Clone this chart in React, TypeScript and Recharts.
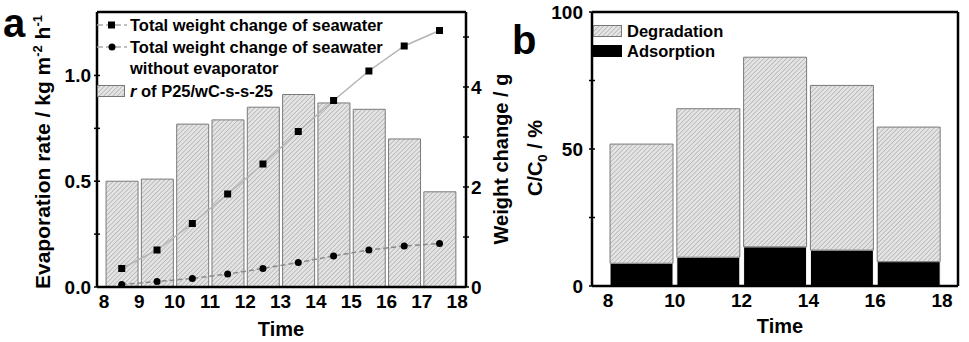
import React from "react";
import { ComposedChart, Bar, Line, XAxis, YAxis, Legend, Label, ReferenceLine } from "recharts";

const FONT = '"Liberation Sans", Arial, Helvetica, sans-serif';

// ---- panel a ----
const hours = [8.5, 9.5, 10.5, 11.5, 12.5, 13.5, 14.5, 15.5, 16.5, 17.5];
const evapRate = [0.5, 0.51, 0.77, 0.79, 0.85, 0.91, 0.87, 0.84, 0.7, 0.45];
const weightWith = [0.37, 0.74, 1.27, 1.86, 2.46, 3.11, 3.73, 4.32, 4.82, 5.13];
const weightWithout = [0.05, 0.11, 0.17, 0.26, 0.37, 0.49, 0.62, 0.74, 0.82, 0.87];
const hourTicks = [8, 9, 10, 11, 12, 13, 14, 15, 16, 17, 18];
const rateTicks = [0, 0.25, 0.5, 0.75, 1.0];
const rateLabels = [0, 0.5, 1.0];
const weightTicks = [0, 1, 2, 3, 4, 5];
const weightLabels = [0, 2, 4];

// ---- panel b ----
const periods = [9, 11, 13, 15, 17];
const adsorption = [8.3, 10.5, 14.3, 13.1, 8.9];
const degradation = [43.5, 54.2, 69.2, 60.1, 49.1];
const periodTicks = [8, 10, 12, 14, 16, 18];
const ratioTicks = [0, 25, 50, 75, 100];
const ratioLabels = [0, 50, 100];

const dataA = hours.map((t, i) => ({ t, rate: evapRate[i], w1: weightWith[i], w2: weightWithout[i] }));
const dataB = periods.map((t, i) => ({ t, ads: adsorption[i], deg: degradation[i] }));

const tickFont = { fontSize: 19, fontWeight: 700, fill: "#000", fontFamily: FONT };
const titleFont = { fontSize: 20, fontWeight: 700, fill: "#000", fontFamily: FONT };

// y tick: short line crossing the axis, label only on major values
const yTick = (side: "left" | "right", labeled: number[], fmt: (v: number) => string, gap: number) => (props: any) => {
    const { x, y, payload } = props;
    const v = payload.value;
    const dir = side === "left" ? 1 : -1;
    const ax = x + dir * 4; // tickSize 4, tickMargin 0
    const major = labeled.includes(v);
    return (
        <g>
            <line x1={ax - 3} x2={ax + 3} y1={y} y2={y} stroke="#000" strokeWidth={1.5} />
            {major && (
                <text
                    x={ax - dir * gap}
                    y={y}
                    dy="0.36em"
                    textAnchor={side === "left" ? "end" : "start"}
                    {...tickFont}
                >
                    {fmt(v)}
                </text>
            )}
        </g>
    );
};

const squareDot = (props: any) => {
    const { cx, cy, index } = props;
    return <rect key={`sq-${index}`} x={cx - 3.5} y={cy - 3.5} width={7} height={7} fill="#000" />;
};

const LegendA = () => (
    <svg width={320} height={95} style={{ overflow: "visible" }}>
        <g transform="translate(-95,-12)">
            <line x1={97} x2={127} y1={25} y2={25} stroke="#aaa" strokeWidth={1.5} strokeDasharray="6 3" />
            <rect x={108} y={21.5} width={7} height={7} fill="#000" />
            <text x={130} y={31} fontSize={16.5} fontWeight={700} fontFamily={FONT} fill="#000">
                Total weight change of seawater
            </text>
            <line x1={97} x2={127} y1={47} y2={47} stroke="#aaa" strokeWidth={1.5} strokeDasharray="6 3" />
            <circle cx={112} cy={47} r={3.5} fill="#000" />
            <text x={130} y={53} fontSize={16.5} fontWeight={700} fontFamily={FONT} fill="#000">
                Total weight change of seawater
            </text>
            <text x={130} y={74} fontSize={16.5} fontWeight={700} fontFamily={FONT} fill="#000">
                without evaporator
            </text>
            <rect x={97.5} y={85.5} width={27} height={11} fill="url(#hatch)" stroke="#777" strokeWidth={1} />
            <text x={130} y={97} fontSize={16.5} fontWeight={700} fontFamily={FONT} fill="#000">
                <tspan fontStyle="italic">r</tspan> of P25/wC-s-s-25
            </text>
        </g>
    </svg>
);

const LegendB = () => (
    <svg width={160} height={50} style={{ overflow: "visible" }}>
        <g transform="translate(-593,-24)">
            <rect x={593.5} y={25.5} width={28} height={11} fill="url(#hatch)" stroke="#777" strokeWidth={1} />
            <text x={627} y={37} fontSize={16.5} fontWeight={700} fontFamily={FONT} fill="#000">
                Degradation
            </text>
            <rect x={593} y={45} width={29} height={12} fill="#000" />
            <text x={627} y={57} fontSize={16.5} fontWeight={700} fontFamily={FONT} fill="#000">
                Adsorption
            </text>
        </g>
    </svg>
);

export default function App() {
    return (
        <div style={{ position: "absolute", left: 0, top: 0, width: 969, height: 342, background: "#fff", fontFamily: FONT }}>
            <svg width={969} height={342} style={{ position: "absolute", left: 0, top: 0 }}>
                <defs>
                    <pattern id="hatch" patternUnits="userSpaceOnUse" width={3.2} height={3.2} patternTransform="rotate(45)">
                        <rect width={3.2} height={3.2} fill="#e4e4e4" />
                        <line x1={0} y1={0} x2={0} y2={3.2} stroke="#a0a0a0" strokeWidth={1.1} />
                    </pattern>
                </defs>
                {/* panel letters */}
                <text x={3} y={37} fontSize={40} fontWeight={700} fontFamily={FONT} fill="#000">a</text>
                <text x={512} y={54} fontSize={40} fontWeight={700} fontFamily={FONT} fill="#000">b</text>
            </svg>

            {/* panel a */}
            <div style={{ position: "absolute", left: 0, top: 0 }}>
                <ComposedChart width={540} height={342} data={dataA} margin={{ top: 12, right: 14, bottom: 25, left: 37 }}>
                    <XAxis
                        dataKey="t"
                        type="number"
                        domain={[7.8, 18.25]}
                        ticks={hourTicks}
                        allowDataOverflow
                        height={30}
                        tickLine={false}
                        tickSize={4}
                        tickMargin={4}
                        tick={tickFont}
                        axisLine={{ stroke: "#000", strokeWidth: 2.5 }}
                    >
                        <Label
                            content={() => (
                                <text x={281} y={336} textAnchor="middle" {...titleFont}>
                                    Time
                                </text>
                            )}
                        />
                    </XAxis>
                    <YAxis
                        yAxisId="rate"
                        domain={[0, 1.3]}
                        ticks={rateTicks}
                        allowDataOverflow
                        width={60}
                        tickLine={false}
                        tickSize={4}
                        tickMargin={0}
                        tick={yTick("left", rateLabels, (v) => v.toFixed(1), 6)}
                        axisLine={{ stroke: "#000", strokeWidth: 2.5 }}
                    >
                        <Label
                            content={() => (
                                <text x={50} y={152} textAnchor="middle" transform="rotate(-90 50 152)" {...titleFont} fontSize={21}>
                                    Evaporation rate / kg m
                                    <tspan dy={-8} fontSize={13}>-2</tspan>
                                    <tspan dy={8}> h</tspan>
                                    <tspan dy={-8} fontSize={13}>-1</tspan>
                                </text>
                            )}
                        />
                    </YAxis>
                    <YAxis
                        yAxisId="weight"
                        orientation="right"
                        domain={[0, 5.5]}
                        ticks={weightTicks}
                        allowDataOverflow
                        width={60}
                        tickLine={false}
                        tickSize={4}
                        tickMargin={0}
                        tick={yTick("right", weightLabels, (v) => String(v), 5)}
                        axisLine={{ stroke: "#000", strokeWidth: 2.5 }}
                    >
                        <Label
                            content={() => (
                                <text x={508} y={159} textAnchor="middle" transform="rotate(-90 508 159)" {...titleFont}>
                                    Weight change / g
                                </text>
                            )}
                        />
                    </YAxis>
                    <ReferenceLine yAxisId="rate" y={1.3} stroke="#000" strokeWidth={2.5} />
                    <Bar
                        yAxisId="rate"
                        dataKey="rate"
                        barSize={32}
                        fill="url(#hatch)"
                        stroke="#7a7a7a"
                        strokeWidth={1}
                        isAnimationActive={false}
                    />
                    <Line
                        yAxisId="weight"
                        dataKey="w1"
                        type="linear"
                        stroke="#b4b4b4"
                        strokeWidth={1.5}
                        dot={squareDot}
                        activeDot={false}
                        isAnimationActive={false}
                    />
                    <Line
                        yAxisId="weight"
                        dataKey="w2"
                        type="linear"
                        stroke="#8a8a8a"
                        strokeWidth={1.5}
                        strokeDasharray="5 3"
                        dot={{ r: 3.5, fill: "#000", stroke: "none" }}
                        activeDot={false}
                        isAnimationActive={false}
                    />
                    <Legend
                        layout="vertical"
                        align="center"
                        verticalAlign="middle"
                        content={() => <LegendA />}
                        wrapperStyle={{ position: "absolute", left: 95, top: 12, width: 320, height: 95 }}
                    />
                </ComposedChart>
            </div>

            {/* panel b */}
            <div style={{ position: "absolute", left: 505, top: 0 }}>
                <ComposedChart width={464} height={342} data={dataB} margin={{ top: 12, right: 11, bottom: 26, left: 47 }}>
                    <XAxis
                        dataKey="t"
                        type="number"
                        domain={[7.52, 18.48]}
                        ticks={periodTicks}
                        allowDataOverflow
                        height={30}
                        tickLine={false}
                        tickSize={4}
                        tickMargin={4}
                        tick={tickFont}
                        axisLine={{ stroke: "#000", strokeWidth: 2.5 }}
                    >
                        <Label
                            content={() => (
                                <text x={275} y={333} textAnchor="middle" {...titleFont}>
                                    Time
                                </text>
                            )}
                        />
                    </XAxis>
                    <YAxis
                        domain={[0, 100]}
                        ticks={ratioTicks}
                        allowDataOverflow
                        width={40}
                        tickLine={false}
                        tickSize={4}
                        tickMargin={0}
                        tick={yTick("left", ratioLabels, (v) => String(v), 9)}
                        axisLine={{ stroke: "#000", strokeWidth: 2.5 }}
                    >
                        <Label
                            content={() => (
                                <text x={37} y={158} textAnchor="middle" transform="rotate(-90 37 158)" {...titleFont}>
                                    C/C
                                    <tspan dy={5} fontSize={13}>0</tspan>
                                    <tspan dy={-5}> / %</tspan>
                                </text>
                            )}
                        />
                    </YAxis>
                    <ReferenceLine y={100} stroke="#000" strokeWidth={2.5} />
                    <ReferenceLine x={18.48} stroke="#000" strokeWidth={2.5} />
                    <Bar dataKey="ads" stackId="s" barSize={63} fill="#000" stroke="#fff" strokeWidth={1} isAnimationActive={false} />
                    <Bar
                        dataKey="deg"
                        stackId="s"
                        barSize={63}
                        fill="url(#hatch)"
                        stroke="#7a7a7a"
                        strokeWidth={1}
                        isAnimationActive={false}
                    />
                    <Legend
                        layout="vertical"
                        align="center"
                        verticalAlign="middle"
                        content={() => <LegendB />}
                        wrapperStyle={{ position: "absolute", left: 88, top: 24, width: 160, height: 50 }}
                    />
                </ComposedChart>
            </div>
        </div>
    );
}
